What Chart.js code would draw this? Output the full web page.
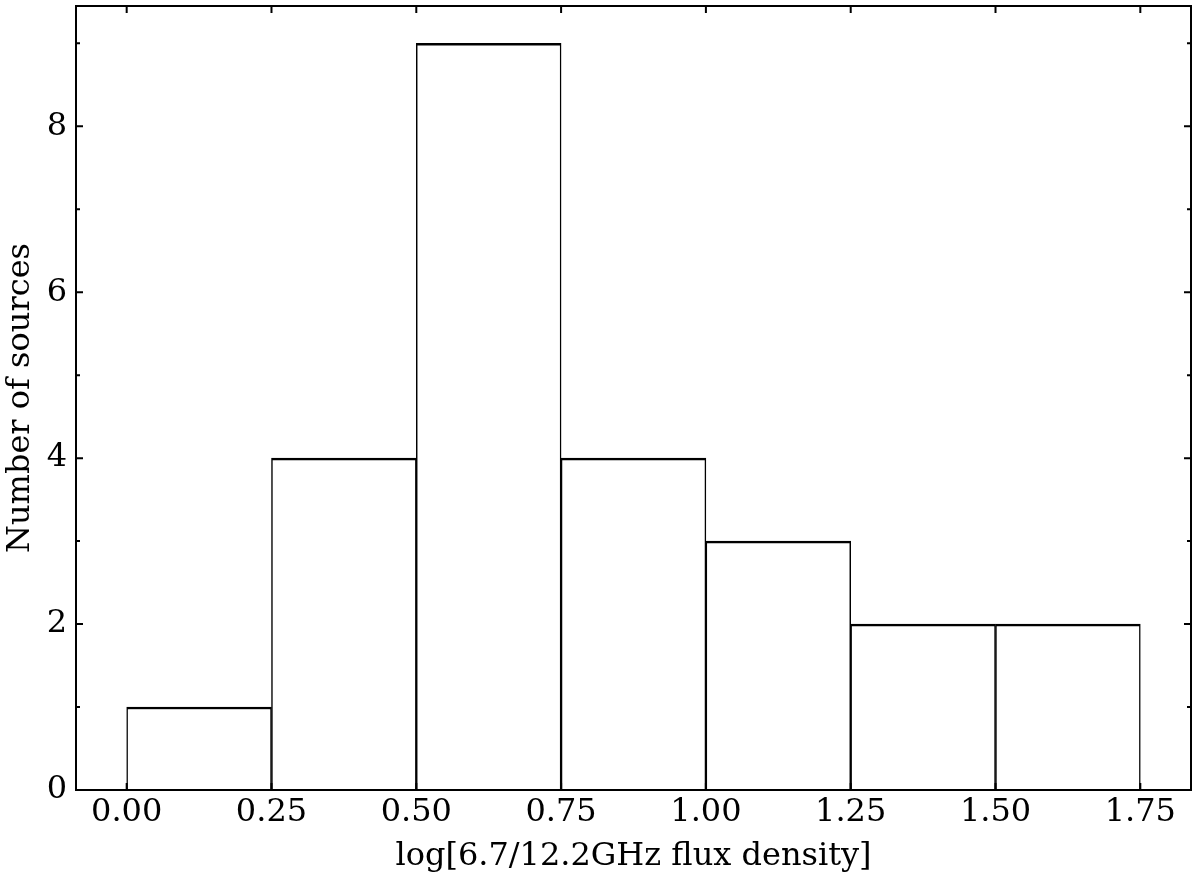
<!DOCTYPE html>
<html>
<head>
<meta charset="utf-8">
<title>6.7/12.2 GHz flux density ratio</title>
<script src="https://cdn.jsdelivr.net/npm/chart.js@4.4.1/dist/chart.umd.min.js"></script>
<style>
	html, body { margin: 0; padding: 0; background: #fff; }
	#wrap { width: 1200px; height: 878px; }
</style>
</head>
<body>
<div id="wrap"><canvas id="hist" width="1200" height="878"></canvas></div>
<script>
	// Histogram bins (centre of each 0.25-wide bin) and counts.
	var binCenters = [0.125, 0.375, 0.625, 0.875, 1.125, 1.375, 1.625];
	var counts     = [1, 4, 9, 4, 3, 2, 2];

	// Axis ticks.
	var xTicks      = [0.00, 0.25, 0.50, 0.75, 1.00, 1.25, 1.50, 1.75];
	var yTicks      = [0, 2, 4, 6, 8];
	var yMinorTicks = [1, 3, 5, 7, 9];

	var FONT = { family: '"DejaVu Serif", serif', size: 32 };

	// Matplotlib-style frame with inward ticks on all four sides.
	var framePlugin = {
		id: 'frame',
		afterDatasetsDraw: function (chart) {
			var ctx = chart.ctx;
			var a = chart.chartArea;
			var xs = chart.scales.x;
			var ys = chart.scales.y;
			ctx.save();
			ctx.strokeStyle = '#000';
			ctx.lineWidth = 2;
			ctx.strokeRect(a.left, a.top, a.right - a.left, a.bottom - a.top);

			ctx.beginPath();
			xTicks.forEach(function (v) {
				var px = xs.getPixelForValue(v);
				ctx.moveTo(px, a.bottom); ctx.lineTo(px, a.bottom - 7);
				ctx.moveTo(px, a.top);    ctx.lineTo(px, a.top + 7);
			});
			yTicks.forEach(function (v) {
				var py = ys.getPixelForValue(v);
				ctx.moveTo(a.left, py);  ctx.lineTo(a.left + 7, py);
				ctx.moveTo(a.right, py); ctx.lineTo(a.right - 7, py);
			});
			yMinorTicks.forEach(function (v) {
				var py = ys.getPixelForValue(v);
				ctx.moveTo(a.left, py);  ctx.lineTo(a.left + 4, py);
				ctx.moveTo(a.right, py); ctx.lineTo(a.right - 4, py);
			});
			ctx.stroke();
			ctx.restore();
		}
	};

	new Chart(document.getElementById('hist'), {
		type: 'bar',
		data: {
			datasets: [{
				data: binCenters.map(function (c, i) { return { x: c, y: counts[i] }; }),
				backgroundColor: '#fff',
				borderColor: '#000',
				borderWidth: { top: 2.5, left: 1.5, right: 1.5, bottom: 0 },
				borderSkipped: false,
				barPercentage: 1,
				categoryPercentage: 1,
			}],
		},
		options: {
			responsive: false,
			animation: false,
			events: [],
			layout: { padding: { left: 0, top: 6, right: 9, bottom: 0 } },
			plugins: {
				legend: { display: false },
				tooltip: { enabled: false },
			},
			scales: {
				x: {
					type: 'linear',
					offset: false,
					min: -0.0875,
					max: 1.8375,
					grid: { display: false, drawTicks: false, offset: false },
					border: { display: false },
					afterBuildTicks: function (scale) {
						scale.ticks = xTicks.map(function (v) { return { value: v }; });
					},
					afterFit: function (scale) {
						scale.height = 88;
						scale.paddingLeft = 0;
						scale.paddingRight = 0;
					},
					ticks: {
						color: '#000',
						font: FONT,
						padding: 3,
						maxRotation: 0,
						autoSkip: false,
						callback: function (val) { return Number(val).toFixed(2); },
					},
					title: {
						display: true,
						text: 'log[6.7/12.2GHz flux density]',
						color: '#000',
						font: FONT,
						padding: { top: 0, bottom: 2 },
					},
				},
				y: {
					min: 0,
					max: 9.45,
					grid: { display: false, drawTicks: false },
					border: { display: false },
					afterBuildTicks: function (scale) {
						scale.ticks = yTicks.map(function (v) { return { value: v }; });
					},
					afterFit: function (scale) {
						scale.width = 76;
						scale.paddingTop = 0;
						scale.paddingBottom = 0;
					},
					ticks: {
						color: '#000',
						font: FONT,
						padding: 9,
						autoSkip: false,
					},
					title: {
						display: true,
						text: 'Number of sources',
						color: '#000',
						font: FONT,
						padding: { top: 1, bottom: 0 },
					},
				},
			},
		},
		plugins: [framePlugin],
	});
</script>
</body>
</html>
